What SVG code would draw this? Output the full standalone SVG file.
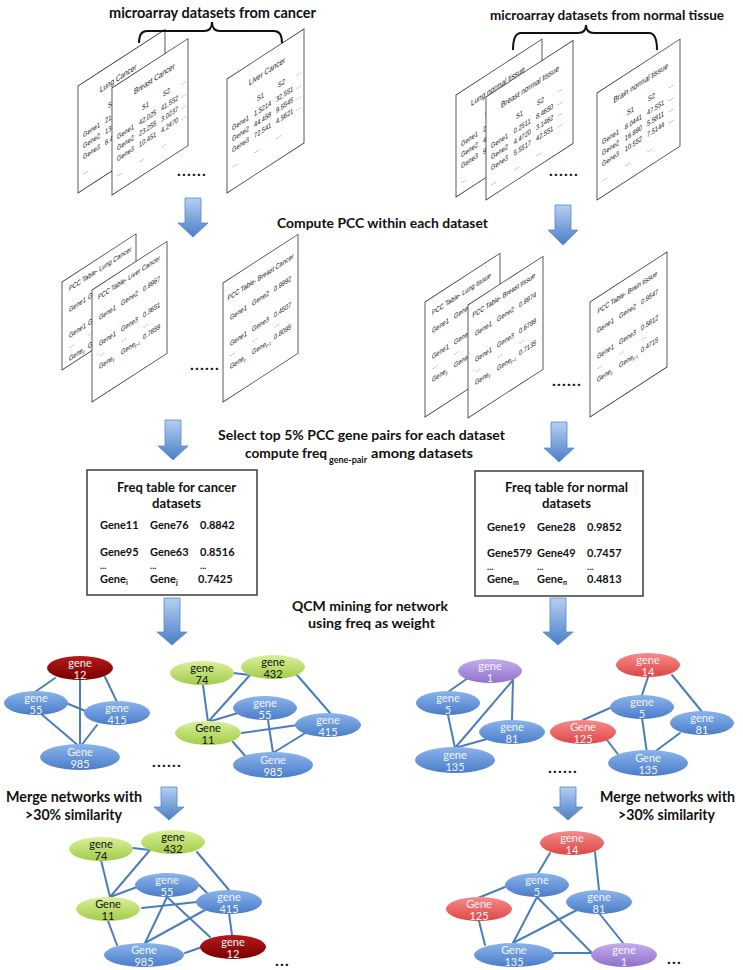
<svg xmlns="http://www.w3.org/2000/svg" width="743" height="970" viewBox="0 0 743 970">
<defs>
<linearGradient id="gBlue" x1="0" y1="0" x2="0" y2="1"><stop offset="0" stop-color="#8AB4EC"/><stop offset="1" stop-color="#4A7CC8"/></linearGradient>
<linearGradient id="gGreen" x1="0" y1="0" x2="0" y2="1"><stop offset="0" stop-color="#D9F09A"/><stop offset="1" stop-color="#A2CC48"/></linearGradient>
<linearGradient id="gDark" x1="0" y1="0" x2="0" y2="1"><stop offset="0" stop-color="#B51A1A"/><stop offset="1" stop-color="#780000"/></linearGradient>
<linearGradient id="gRed" x1="0" y1="0" x2="0" y2="1"><stop offset="0" stop-color="#F48C8A"/><stop offset="1" stop-color="#DF4644"/></linearGradient>
<linearGradient id="gPurple" x1="0" y1="0" x2="0" y2="1"><stop offset="0" stop-color="#C5ADEA"/><stop offset="1" stop-color="#9071CB"/></linearGradient>
<linearGradient id="gArrow" x1="0" y1="0" x2="0" y2="1"><stop offset="0" stop-color="#B5CFF2"/><stop offset="1" stop-color="#4A7EC6"/></linearGradient>
<style>
.sheet{fill:#fff;stroke:#333;stroke-width:0.8}
.st{font-family:"Liberation Sans",Arial,sans-serif;font-size:7.5px;fill:#111;text-rendering:geometricPrecision}
.stt{font-size:8.5px}
.lbl{font-family:Lato,"Open Sans","Liberation Sans",sans-serif;font-weight:bold;fill:#111}
.f15{font-size:15px}.f14{font-size:14px}.f13{font-size:13px}.f11{font-size:11px}
.edge{stroke:#4A7EBB;stroke-width:2;fill:none;stroke-linecap:round}
.brace{stroke:#111;stroke-width:2;fill:none}
.arrow{fill:url(#gArrow);stroke:#5585CC;stroke-width:0.8}
.box{fill:#fff;stroke:#3c3c3c;stroke-width:1.5}
.nt{font-family:Lato,"Open Sans",sans-serif;font-size:11px;text-anchor:middle}
.w{fill:#F2F6FC}.k{fill:#111}
.blue{fill:url(#gBlue)}.green{fill:url(#gGreen)}.dark{fill:url(#gDark)}.red{fill:url(#gRed)}.purple{fill:url(#gPurple)}
.dots{font-family:Lato,sans-serif;font-weight:bold;font-size:16px;fill:#111;letter-spacing:1.2px}
</style>
</defs>
<rect width="743" height="970" fill="#fff"/>

<!-- Labels -->
<g id="labels">
<text class="lbl f15" x="109" y="18" textLength="207" lengthAdjust="spacingAndGlyphs">microarray datasets from cancer</text>
<text class="lbl f14" x="490" y="20" textLength="234" lengthAdjust="spacingAndGlyphs">microarray datasets from normal tissue</text>
<text class="lbl f14" x="277" y="228" textLength="211" lengthAdjust="spacingAndGlyphs">Compute PCC within each dataset</text>
<text class="lbl f14" x="218" y="440" textLength="287" lengthAdjust="spacingAndGlyphs">Select top 5% PCC gene pairs for each dataset</text>
<text class="lbl f14" y="458"><tspan x="245" textLength="82" lengthAdjust="spacingAndGlyphs">compute freq</tspan><tspan x="329" dy="5" font-size="9" textLength="38" lengthAdjust="spacingAndGlyphs">gene-pair</tspan><tspan x="371" dy="-5" textLength="102" lengthAdjust="spacingAndGlyphs">among datasets</tspan></text>
<text class="lbl f14" x="292" y="611" textLength="156" lengthAdjust="spacingAndGlyphs">QCM mining for network</text>
<text class="lbl f14" x="308" y="628" textLength="127" lengthAdjust="spacingAndGlyphs">using freq as weight</text>
<text class="lbl f15" x="6" y="802" textLength="136" lengthAdjust="spacingAndGlyphs">Merge networks with</text>
<text class="lbl f15" x="25" y="820" textLength="97" lengthAdjust="spacingAndGlyphs">&gt;30% similarity</text>
<text class="lbl f15" x="600" y="802" textLength="135" lengthAdjust="spacingAndGlyphs">Merge networks with</text>
<text class="lbl f15" x="618" y="820" textLength="97" lengthAdjust="spacingAndGlyphs">&gt;30% similarity</text>
<text class="dots" x="177" y="176">......</text>
<text class="dots" x="549" y="176">......</text>
<text class="dots" x="190" y="370">......</text>
<text class="dots" x="552" y="386">......</text>
<text class="dots" x="152" y="767">......</text>
<text class="dots" x="548" y="773">......</text>
<text class="dots" x="275" y="966">...</text>
<text class="dots" x="667" y="964">...</text>
</g>

<!-- Dataset sheets -->
<g id="ds-lung-cancer" transform="translate(78,86) skewY(-33)">
<rect class="sheet" width="87" height="107"/>
<g class="st" transform="scale(0.75,1)">
<text class="stt" x="29.3" y="21">Lung Cancer</text>
<text x="40" y="42">S1</text>
<text x="6.7" y="55">Gene1</text><text x="36" y="55">21.</text>
<text x="6.7" y="66">Gene2</text><text x="36" y="66">13.</text>
<text x="6.7" y="77">Gene3</text><text x="36" y="77">6.4</text>
<text x="6.7" y="92">…</text>
</g></g>
<g id="ds-breast-cancer" transform="translate(112,88) skewY(-33)">
<rect class="sheet" width="76" height="107"/>
<g class="st" transform="scale(0.75,1)">
<text class="stt" x="29.3" y="21">Breast Cancer</text>
<text x="40" y="42">S1</text><text x="68" y="42">S2</text><text x="92" y="42">…</text>
<text x="6.7" y="55">Gene1</text><text x="36" y="55">42.025</text><text x="65.3" y="55">41.552</text><text x="92" y="55">…</text>
<text x="6.7" y="66">Gene2</text><text x="36" y="66">23.255</text><text x="65.3" y="66">3.0237</text><text x="92" y="66">…</text>
<text x="6.7" y="77">Gene3</text><text x="36" y="77">10.451</text><text x="65.3" y="77">4.2470</text><text x="92" y="77">…</text>
<text x="6.7" y="92">…</text><text x="36" y="92">…</text><text x="65.3" y="92">…</text>
</g></g>
<g id="ds-liver-cancer" transform="translate(227,79) skewY(-33)">
<rect class="sheet" width="77" height="114"/>
<g class="st" transform="scale(0.75,1)">
<text class="stt" x="29.3" y="21">Liver Cancer</text>
<text x="40" y="42">S1</text><text x="68" y="42">S2</text><text x="92" y="42">…</text>
<text x="6.7" y="55">Gene1</text><text x="36" y="55">1.5214</text><text x="65.3" y="55">32.551</text><text x="92" y="55">…</text>
<text x="6.7" y="66">Gene2</text><text x="36" y="66">44.458</text><text x="65.3" y="66">9.5545</text><text x="92" y="66">…</text>
<text x="6.7" y="77">Gene3</text><text x="36" y="77">72.541</text><text x="65.3" y="77">4.5621</text><text x="92" y="77">…</text>
<text x="6.7" y="92">…</text><text x="36" y="92">…</text><text x="65.3" y="92">…</text>
</g></g>
<g id="ds-lung-normal" transform="translate(456,95) skewY(-33)">
<rect class="sheet" width="86" height="102"/>
<g class="st" transform="scale(0.75,1)">
<text class="stt" x="20" y="21">Lung normal tissue</text>
<text x="38.7" y="42">S1</text>
<text x="6.7" y="55">Gene1</text><text x="36" y="55">2.</text>
<text x="6.7" y="66">Gene2</text><text x="36" y="66">4</text>
<text x="6.7" y="77">Gene3</text><text x="36" y="77">9.</text>
<text x="6.7" y="92">…</text>
</g></g>
<g id="ds-breast-normal" transform="translate(486,97) skewY(-33)">
<rect class="sheet" width="87" height="103"/>
<g class="st" transform="scale(0.75,1)">
<text class="stt" x="20" y="21">Breast normal tissue</text>
<text x="40" y="42">S1</text><text x="68" y="42">S2</text><text x="95" y="42">…</text>
<text x="6.7" y="55">Gene1</text><text x="37" y="55">0.2511</text><text x="66.7" y="55">8.4650</text><text x="95" y="55">…</text>
<text x="6.7" y="66">Gene2</text><text x="37" y="66">4.4720</text><text x="66.7" y="66">3.1462</text><text x="95" y="66">…</text>
<text x="6.7" y="77">Gene3</text><text x="37" y="77">5.5517</text><text x="66.7" y="77">42.551</text><text x="95" y="77">…</text>
<text x="6.7" y="92">…</text><text x="37" y="92">…</text><text x="66.7" y="92">…</text>
</g></g>
<g id="ds-brain-normal" transform="translate(597,93) skewY(-33)">
<rect class="sheet" width="83" height="107"/>
<g class="st" transform="scale(0.75,1)">
<text class="stt" x="22" y="21">Brain normal tissue</text>
<text x="40" y="42">S1</text><text x="68" y="42">S2</text><text x="95" y="42">…</text>
<text x="6.7" y="55">Gene1</text><text x="37" y="55">8.0441</text><text x="66.7" y="55">47.551</text><text x="95" y="55">…</text>
<text x="6.7" y="66">Gene2</text><text x="37" y="66">16.890</text><text x="66.7" y="66">5.5811</text><text x="95" y="66">…</text>
<text x="6.7" y="77">Gene3</text><text x="37" y="77">10.552</text><text x="66.7" y="77">7.5144</text><text x="95" y="77">…</text>
<text x="6.7" y="92">…</text><text x="37" y="92">…</text><text x="66.7" y="92">…</text>
</g></g>

<!-- PCC sheets -->
<g id="pcc-lung-cancer" transform="translate(62,282) skewY(-33)">
<rect class="sheet" width="74" height="88"/>
<g class="st" transform="scale(0.75,1)">
<text x="9.3" y="14">PCC Table- Lung Cancer</text>
<text x="9.3" y="35">Gene1</text><text x="34.7" y="35">Gene2</text>
<text x="9.3" y="61">Gene1</text><text x="34.7" y="61">Gene3</text>
<text x="9.3" y="71">…</text><text x="34.7" y="71">…</text>
<text x="9.3" y="84">Gene<tspan font-size="5" dy="1.5">y</tspan></text><text x="34.7" y="84">Gene</text>
</g></g>
<g id="pcc-liver-cancer" transform="translate(92,290) skewY(-33)">
<rect class="sheet" width="75" height="112"/>
<g class="st" transform="scale(0.75,1)">
<text x="8" y="14">PCC Table- Liver Cancer</text>
<text x="9.3" y="35">Gene1</text><text x="38.7" y="35">Gene2</text><text x="68" y="35">0.9967</text>
<text x="9.3" y="61">Gene1</text><text x="38.7" y="61">Gene3</text><text x="68" y="61">0.3651</text>
<text x="9.3" y="71">…</text><text x="38.7" y="71">…</text><text x="68" y="71">…</text>
<text x="9.3" y="84">Gene<tspan font-size="5" dy="1.5">y</tspan></text><text x="38.7" y="84">Gene<tspan font-size="5" dy="1.5">y-1</tspan></text><text x="68" y="83">0.7859</text>
</g></g>
<g id="pcc-breast-cancer" transform="translate(223,283) skewY(-33)">
<rect class="sheet" width="75" height="119"/>
<g class="st" transform="scale(0.75,1)">
<text x="6" y="21">PCC Table- Breast Cancer</text>
<text x="9.3" y="42">Gene1</text><text x="38.7" y="42">Gene2</text><text x="68" y="42">0.9992</text>
<text x="9.3" y="68">Gene1</text><text x="38.7" y="68">Gene3</text><text x="68" y="68">0.4507</text>
<text x="9.3" y="78">…</text><text x="38.7" y="78">…</text><text x="68" y="78">…</text>
<text x="9.3" y="91">Gene<tspan font-size="5" dy="1.5">y</tspan></text><text x="38.7" y="91">Gene<tspan font-size="5" dy="1.5">y-1</tspan></text><text x="68" y="90">0.8095</text>
</g></g>
<g id="pcc-lung-tissue" transform="translate(425,302) skewY(-33)">
<rect class="sheet" width="75" height="115"/>
<g class="st" transform="scale(0.75,1)">
<text x="9.3" y="18">PCC Table- Lung tissue</text>
<text x="9.3" y="36">Gene1</text><text x="38.7" y="36">Gene2</text>
<text x="9.3" y="62">Gene1</text><text x="38.7" y="62">Gene3</text>
<text x="9.3" y="72">…</text><text x="38.7" y="72">…</text>
<text x="9.3" y="85">Gene<tspan font-size="5" dy="1.5">y</tspan></text><text x="38.7" y="85">Gene(y-1)</text>
</g></g>
<g id="pcc-breast-tissue" transform="translate(468,305) skewY(-33)">
<rect class="sheet" width="75" height="113"/>
<g class="st" transform="scale(0.75,1)">
<text x="6" y="16">PCC Table- Breast tissue</text>
<text x="9.3" y="36">Gene1</text><text x="38.7" y="36">Gene2</text><text x="68" y="36">0.9974</text>
<text x="9.3" y="62">Gene1</text><text x="38.7" y="62">Gene3</text><text x="68" y="62">0.6789</text>
<text x="9.3" y="72">…</text><text x="38.7" y="72">…</text><text x="68" y="72">…</text>
<text x="9.3" y="85">Gene<tspan font-size="5" dy="1.5">y</tspan></text><text x="38.7" y="85">Gene<tspan font-size="5" dy="1.5">y-1</tspan></text><text x="68" y="84">0.7135</text>
</g></g>
<g id="pcc-brain-tissue" transform="translate(590,302) skewY(-33)">
<rect class="sheet" width="77" height="115"/>
<g class="st" transform="scale(0.75,1)">
<text x="10" y="17">PCC Table- Brain tissue</text>
<text x="9.3" y="36">Gene1</text><text x="38.7" y="36">Gene2</text><text x="68" y="36">0.9547</text>
<text x="9.3" y="62">Gene1</text><text x="38.7" y="62">Gene3</text><text x="68" y="62">0.5812</text>
<text x="9.3" y="72">…</text><text x="38.7" y="72">…</text><text x="68" y="72">…</text>
<text x="9.3" y="85">Gene<tspan font-size="5" dy="1.5">y</tspan></text><text x="38.7" y="85">Gene<tspan font-size="5" dy="1.5">y-1</tspan></text><text x="68" y="84">0.4715</text>
</g></g>

<!-- Freq tables -->
<g id="freq-cancer">
<rect class="box" x="87" y="470" width="170" height="125"/>
<text class="lbl f13" x="117" y="492" textLength="119" lengthAdjust="spacingAndGlyphs">Freq table for cancer</text>
<text class="lbl f13" x="152" y="508" textLength="49" lengthAdjust="spacingAndGlyphs">datasets</text>
<g class="lbl f11">
<text x="100" y="529">Gene11</text><text x="150" y="529">Gene76</text><text x="200" y="529">0.8842</text>
<text x="100" y="556">Gene95</text><text x="150" y="556">Gene63</text><text x="200" y="556">0.8516</text>
<text x="100" y="569" font-size="9">...</text><text x="150" y="569" font-size="9">...</text><text x="200" y="569" font-size="9">...</text>
<text x="100" y="583">Gene<tspan font-size="7" dy="2">i</tspan></text><text x="150" y="583">Gene<tspan font-size="7" dy="2">j</tspan></text><text x="198" y="583">0.7425</text>
</g></g>
<g id="freq-normal">
<rect class="box" x="475" y="471" width="168" height="125"/>
<text class="lbl f13" x="505" y="492" textLength="123" lengthAdjust="spacingAndGlyphs">Freq table for normal</text>
<text class="lbl f13" x="542" y="508" textLength="49" lengthAdjust="spacingAndGlyphs">datasets</text>
<g class="lbl f11">
<text x="487" y="531">Gene19</text><text x="537" y="531">Gene28</text><text x="587" y="531">0.9852</text>
<text x="487" y="557">Gene579</text><text x="537" y="557">Gene49</text><text x="587" y="557">0.7457</text>
<text x="487" y="570" font-size="9">...</text><text x="537" y="570" font-size="9">...</text><text x="587" y="570" font-size="9">...</text>
<text x="487" y="583">Gene<tspan font-size="7" dy="2">m</tspan></text><text x="537" y="583">Gene<tspan font-size="7" dy="2">n</tspan></text><text x="587" y="583">0.4813</text>
</g></g>

<!-- Connectors -->
<g id="connectors">
<path class="brace" d="M139,43 Q139,31 147,31 L204,31 Q212,31 212,22 Q212,31 220,31 L274,31 Q282,31 282,43"/>
<path class="brace" d="M513,50 Q513,33 521,33 L578,33 Q586,33 586,25 Q586,33 594,33 L649,33 Q657,33 657,50"/>
<path class="arrow" d="M185,198 H201 V223 H208 L193,237 L178,223 H185 Z"/>
<path class="arrow" d="M555,205 H571 V230 H578 L563,245 L548,230 H555 Z"/>
<path class="arrow" d="M165,420 H181 V446 H188 L173,460 L158,446 H165 Z"/>
<path class="arrow" d="M551,422 H567 V448 H574 L559,462 L544,448 H551 Z"/>
<path class="arrow" d="M164,598 H180 V632 H187 L172,645 L157,632 H164 Z"/>
<path class="arrow" d="M550,598 H566 V632 H573 L558,645 L543,632 H550 Z"/>
<path class="arrow" d="M161,787 H177 V807 H184 L169,820 L154,807 H161 Z"/>
<path class="arrow" d="M560,787 H576 V807 H583 L568,820 L553,807 H560 Z"/>
<!-- network 1 -->
<path class="edge" d="M55,678 L35,692 M80,678 L80,747 M105,677 L117,702 M66,703 L88,712 M40,713 L80,747 M97,725 L80,747"/>
<!-- network 2 -->
<path class="edge" d="M233,673 L250,675 M203,685 L208,722 M250,675 L208,722 M297,675 L330,713 M208,722 L238,713 M242,733 L298,725 M268,720 L273,753 M307,732 L273,753 M233,742 L247,758"/>
<!-- network 3 -->
<path class="edge" d="M468,678 L448,692 M513,680 L455,748 M513,680 L512,720 M448,715 L455,748 M487,739 L455,748"/>
<!-- network 4 -->
<path class="edge" d="M648,677 L642,695 M672,675 L703,713 M610,708 L583,720 M642,718 L647,753 M680,733 L653,753 M607,740 L620,757"/>
<!-- merged cancer -->
<path class="edge" d="M133,848 L150,850 M101,860 L110,897 M150,850 L110,897 M197,852 L229,890 M110,897 L137,887 M142,908 L197,902 M199,885 L207,893 M167,897 L145,943 M167,897 L210,937 M205,910 L145,943 M229,913 L232,935 M108,921 L117,945 M185,953 L202,947"/>
<!-- merged normal -->
<path class="edge" d="M550,853 L537,875 M595,852 L599,890 M505,887 L478,898 M537,897 L513,943 M537,897 L592,953 M577,910 L513,943 M599,913 L623,943 M479,921 L485,945 M553,953 L591,953"/>
</g>

<!-- Network 1 nodes -->
<g id="n1-g12"><ellipse class="dark" cx="80" cy="668" rx="33" ry="12"/><text class="nt w" x="80" y="667">gene</text><text class="nt w" x="80" y="679">12</text></g>
<g id="n1-g55"><ellipse class="blue" cx="36" cy="703" rx="32" ry="12"/><text class="nt w" x="36" y="702">gene</text><text class="nt w" x="36" y="714">55</text></g>
<g id="n1-g415"><ellipse class="blue" cx="117" cy="713" rx="33" ry="12"/><text class="nt w" x="117" y="712">gene</text><text class="nt w" x="117" y="724">415</text></g>
<g id="n1-g985"><ellipse class="blue" cx="80" cy="757" rx="40" ry="13"/><text class="nt w" x="80" y="756">Gene</text><text class="nt w" x="80" y="768">985</text></g>
<!-- Network 2 nodes -->
<g id="n2-g74"><ellipse class="green" cx="202" cy="673" rx="32" ry="12"/><text class="nt k" x="202" y="672">gene</text><text class="nt k" x="202" y="684">74</text></g>
<g id="n2-g432"><ellipse class="green" cx="273" cy="667" rx="32" ry="12"/><text class="nt k" x="273" y="666">gene</text><text class="nt k" x="273" y="678">432</text></g>
<g id="n2-g55"><ellipse class="blue" cx="265" cy="708" rx="32" ry="12"/><text class="nt w" x="265" y="707">gene</text><text class="nt w" x="265" y="719">55</text></g>
<g id="n2-g11"><ellipse class="green" cx="208" cy="733" rx="33" ry="12"/><text class="nt k" x="208" y="732">Gene</text><text class="nt k" x="208" y="744">11</text></g>
<g id="n2-g415"><ellipse class="blue" cx="328" cy="725" rx="33" ry="12"/><text class="nt w" x="328" y="724">gene</text><text class="nt w" x="328" y="736">415</text></g>
<g id="n2-g985"><ellipse class="blue" cx="273" cy="765" rx="40" ry="13"/><text class="nt w" x="273" y="764">Gene</text><text class="nt w" x="273" y="776">985</text></g>
<!-- Network 3 nodes -->
<g id="n3-g1"><ellipse class="purple" cx="490" cy="671" rx="32" ry="12"/><text class="nt w" x="490" y="670">gene</text><text class="nt w" x="490" y="682">1</text></g>
<g id="n3-g5"><ellipse class="blue" cx="448" cy="703" rx="32" ry="12"/><text class="nt w" x="448" y="702">gene</text><text class="nt w" x="448" y="714">5</text></g>
<g id="n3-g81"><ellipse class="blue" cx="512" cy="732" rx="33" ry="12"/><text class="nt w" x="512" y="731">gene</text><text class="nt w" x="512" y="743">81</text></g>
<g id="n3-g135"><ellipse class="blue" cx="455" cy="760" rx="40" ry="13"/><text class="nt w" x="455" y="759">gene</text><text class="nt w" x="455" y="771">135</text></g>
<!-- Network 4 nodes -->
<g id="n4-g14"><ellipse class="red" cx="648" cy="665" rx="32" ry="12"/><text class="nt w" x="648" y="664">gene</text><text class="nt w" x="648" y="676">14</text></g>
<g id="n4-g5"><ellipse class="blue" cx="642" cy="707" rx="32" ry="12"/><text class="nt w" x="642" y="706">gene</text><text class="nt w" x="642" y="718">5</text></g>
<g id="n4-g81"><ellipse class="blue" cx="702" cy="723" rx="32" ry="12"/><text class="nt w" x="702" y="722">gene</text><text class="nt w" x="702" y="734">81</text></g>
<g id="n4-g125"><ellipse class="red" cx="583" cy="732" rx="33" ry="12"/><text class="nt w" x="583" y="731">Gene</text><text class="nt w" x="583" y="743">125</text></g>
<g id="n4-g135"><ellipse class="blue" cx="648" cy="763" rx="40" ry="13"/><text class="nt w" x="648" y="762">Gene</text><text class="nt w" x="648" y="774">135</text></g>
<!-- Merged cancer nodes -->
<g id="m1-g74"><ellipse class="green" cx="101" cy="849" rx="32" ry="12"/><text class="nt k" x="101" y="848">gene</text><text class="nt k" x="101" y="860">74</text></g>
<g id="m1-g432"><ellipse class="green" cx="173" cy="842" rx="32" ry="12"/><text class="nt k" x="173" y="841">gene</text><text class="nt k" x="173" y="853">432</text></g>
<g id="m1-g55"><ellipse class="blue" cx="167" cy="885" rx="32" ry="12"/><text class="nt w" x="167" y="884">gene</text><text class="nt w" x="167" y="896">55</text></g>
<g id="m1-g11"><ellipse class="green" cx="108" cy="909" rx="32" ry="12"/><text class="nt k" x="108" y="908">Gene</text><text class="nt k" x="108" y="920">11</text></g>
<g id="m1-g415"><ellipse class="blue" cx="229" cy="902" rx="33" ry="12"/><text class="nt w" x="229" y="901">gene</text><text class="nt w" x="229" y="913">415</text></g>
<g id="m1-g12"><ellipse class="dark" cx="233" cy="947" rx="33" ry="12"/><text class="nt w" x="233" y="946">gene</text><text class="nt w" x="233" y="958">12</text></g>
<g id="m1-g985"><ellipse class="blue" cx="144" cy="955" rx="40" ry="12"/><text class="nt w" x="144" y="954">Gene</text><text class="nt w" x="144" y="966">985</text></g>
<!-- Merged normal nodes -->
<g id="m2-g14"><ellipse class="red" cx="572" cy="843" rx="32" ry="12"/><text class="nt w" x="572" y="842">gene</text><text class="nt w" x="572" y="854">14</text></g>
<g id="m2-g5"><ellipse class="blue" cx="537" cy="885" rx="32" ry="12"/><text class="nt w" x="537" y="884">gene</text><text class="nt w" x="537" y="896">5</text></g>
<g id="m2-g81"><ellipse class="blue" cx="599" cy="902" rx="33" ry="12"/><text class="nt w" x="599" y="901">gene</text><text class="nt w" x="599" y="913">81</text></g>
<g id="m2-g125"><ellipse class="red" cx="479" cy="909" rx="33" ry="12"/><text class="nt w" x="479" y="908">Gene</text><text class="nt w" x="479" y="920">125</text></g>
<g id="m2-g135"><ellipse class="blue" cx="514" cy="955" rx="40" ry="12"/><text class="nt w" x="514" y="954">Gene</text><text class="nt w" x="514" y="966">135</text></g>
<g id="m2-g1"><ellipse class="purple" cx="624" cy="955" rx="33" ry="12"/><text class="nt w" x="624" y="954">gene</text><text class="nt w" x="624" y="966">1</text></g>
</svg>
